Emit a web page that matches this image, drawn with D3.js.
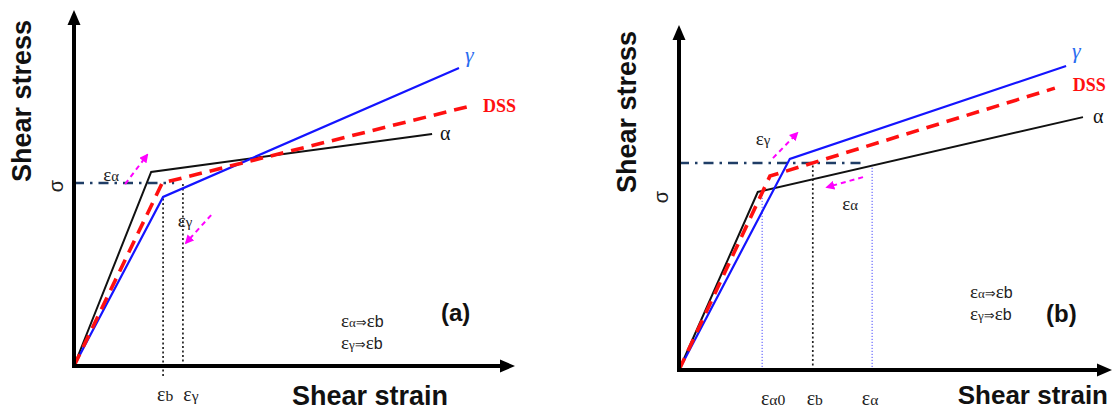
<!DOCTYPE html>
<html>
<head>
<meta charset="utf-8">
<script src="https://cdn.jsdelivr.net/npm/d3@7"></script>
<style>
  body { margin: 0; background: #fff; }
  svg { display: block; }
</style>
</head>
<body>
<div id="chart"></div>
<script>
// strain (x) and stress (y) in arbitrary units 0-100
const seriesNames = ["α", "γ", "DSS"];

// panel (a)
const alphaA = [[0, 0], [17.5, 54.5], [81.2, 65.2]];
const gammaA = [[0, 0], [20.2, 47.5], [87.3, 83.7]];
const dssA   = [[0, 0], [20.0, 51.4], [89.8, 73.0]];
const sigmaA = [0, 22.7, 51.4];                       // x from, x to, stress
const guidesA = [[20.2, -2.8, 47.5], [24.7, 0, 51.4]]; // x, y from, y to
const tickLabelsA = [["ε", "b"], ["ε", "γ"]];
const arrowsA = [[11.6, 51.1, 16.6, 59.3], [31.1, 42.4, 25.4, 34.6]];
const notesA = [[8.4, 53.4, "α"], [25.2, 40.4, "γ"]];

// panel (b)
const alphaB = [[0, 0], [18.2, 51.6], [93.3, 73.3]];
const gammaB = [[0, 0], [25.6, 61.2], [89.4, 88.1]];
const dssB   = [[0, 0], [21.0, 56.2], [86.8, 81.7]];
const sigmaB = [0, 43.0, 60.0];
const guidesB = [[19.2, 0, 51.6], [30.9, 0, 60.0], [44.6, 0, 60.0]];
const tickLabelsB = [["ε", "α0"], ["ε", "b"], ["ε", "α"]];
const arrowsB = [[21.7, 61.4, 27.3, 68.7], [42.5, 55.9, 34.2, 53.0]];
const notesB = [[19.4, 66.7, "γ"], [39.5, 47.8, "α"]];

const rulesText = [["α", "b"], ["γ", "b"]];

const width = 1112, height = 412;

const svg = d3.select("#chart")
  .append("svg")
  .attr("width", width)
  .attr("height", height)
  .attr("viewBox", [0, 0, width, height]);

svg.append("defs").append("marker")
  .attr("id", "mag")
  .attr("viewBox", "0 0 10 10")
  .attr("refX", 8).attr("refY", 5)
  .attr("markerWidth", 9).attr("markerHeight", 9)
  .attr("markerUnits", "userSpaceOnUse")
  .attr("orient", "auto")
  .append("path")
  .attr("d", "M0,0L10,5L0,10z")
  .attr("fill", "#ff00ff");

// epsilon with a smaller trailing part
function epsText(sel, sub, size, font) {
  sel.append("tspan").text("ε").style("font-size", size + "px");
  sel.append("tspan").text(sub).style("font-size", (size * 0.78) + "px")
    .style("font-family", "Liberation Serif, serif");
  sel.style("font-family", font || "Liberation Serif, serif").attr("fill", "#222");
}

function drawPanel(cfg) {
  const x = d3.scaleLinear().domain([0, 100]).range(cfg.xRange);
  const y = d3.scaleLinear().domain([0, 100]).range(cfg.yRange);
  const g = svg.append("g");
  const line = d3.line().x(d => x(d[0])).y(d => y(d[1]));

  // guide verticals
  g.selectAll(".guide")
    .data(cfg.guides)
    .enter().append("line")
    .attr("x1", d => x(d[0])).attr("x2", d => x(d[0]))
    .attr("y1", d => y(d[1])).attr("y2", d => y(d[2]))
    .attr("stroke", (d, i) => cfg.guideColor[i])
    .attr("stroke-width", (d, i) => cfg.guideColor[i] === "#222" ? 1.7 : 1)
    .attr("stroke-dasharray", (d, i) => cfg.guideColor[i] === "#222" ? "2,2.5" : "1.2,1.8");

  // sigma level
  g.append("line")
    .attr("x1", x(cfg.sigma[0])).attr("x2", x(cfg.sigma[1]))
    .attr("y1", y(cfg.sigma[2])).attr("y2", y(cfg.sigma[2]))
    .attr("stroke", "#1f3d66")
    .attr("stroke-width", 2.6)
    .attr("stroke-dasharray", "10,6,2.5,6");

  // curves
  const styles = [
    { color: "#111", w: 2, dash: null },
    { color: "#1414ff", w: 2.2, dash: null },
    { color: "#ff1010", w: 3.6, dash: "13,8" }
  ];
  cfg.series.forEach((s, i) => {
    g.append("path")
      .datum(s)
      .attr("d", line)
      .attr("fill", "none")
      .attr("stroke", styles[i].color)
      .attr("stroke-width", styles[i].w)
      .attr("stroke-dasharray", styles[i].dash)
      .attr("stroke-linejoin", "miter");
  });

  // series end labels
  const endLabel = [
    { dx: 8, dy: 6, color: "#111", size: 20, weight: "normal", style: "normal" },
    { dx: 6, dy: -6, color: "#2b6df0", size: 22, weight: "normal", style: "italic" },
    { dx: 13, dy: 6, color: "#ff1010", size: 18, weight: "bold", style: "normal" }
  ];
  cfg.series.forEach((s, i) => {
    const last = s[s.length - 1];
    g.append("text")
      .attr("x", x(last[0]) + endLabel[i].dx + cfg.labelShift[i][0])
      .attr("y", y(last[1]) + endLabel[i].dy + cfg.labelShift[i][1])
      .attr("fill", endLabel[i].color)
      .style("font-family", "Liberation Serif, serif")
      .style("font-size", endLabel[i].size + "px")
      .style("font-weight", endLabel[i].weight)
      .style("font-style", endLabel[i].style)
      .text(seriesNames[i]);
  });

  // magenta arrows
  g.selectAll(".arr")
    .data(cfg.arrows)
    .enter().append("line")
    .attr("x1", d => x(d[0])).attr("y1", d => y(d[1]))
    .attr("x2", d => x(d[2])).attr("y2", d => y(d[3]))
    .attr("stroke", "#ff00ff")
    .attr("stroke-width", 2)
    .attr("stroke-dasharray", "5,4")
    .attr("marker-end", "url(#mag)");

  cfg.notes.forEach(n => {
    const t = g.append("text")
      .attr("x", x(n[0])).attr("y", y(n[1]) + 5)
      .attr("text-anchor", "middle");
    epsText(t, n[2], 19);
  });

  // axes with arrow heads
  const ox = x(0), oy = y(0), xe = x(100), ye = y(100);
  g.append("line").attr("x1", ox).attr("y1", oy + 2).attr("x2", ox).attr("y2", ye + 12)
    .attr("stroke", "#000").attr("stroke-width", 4);
  g.append("line").attr("x1", ox - 2).attr("y1", oy).attr("x2", xe - 12).attr("y2", oy)
    .attr("stroke", "#000").attr("stroke-width", 4);
  g.append("path")
    .attr("d", `M${ox},${ye}L${ox - 6.5},${ye + 15}L${ox + 6.5},${ye + 15}Z`)
    .attr("fill", "#000");
  g.append("path")
    .attr("d", `M${xe},${oy}L${xe - 15},${oy - 6.5}L${xe - 15},${oy + 6.5}Z`)
    .attr("fill", "#000");

  // x labels at guide positions
  cfg.tickLabels.forEach((lab, i) => {
    const t = g.append("text")
      .attr("x", x(cfg.guides[i][0]) + cfg.tickShift[i])
      .attr("y", cfg.tickY)
      .attr("text-anchor", "middle");
    epsText(t, lab[1], 20);
  });

  // sigma
  g.append("text")
    .attr("transform", `translate(${cfg.sigmaPos[0]},${cfg.sigmaPos[1]}) rotate(-90)`)
    .attr("text-anchor", "middle")
    .style("font-family", "Liberation Sans, Arial, sans-serif")
    .style("font-size", "20px")
    .attr("fill", "#222")
    .text("σ");

  // axis titles
  g.append("text")
    .attr("transform", `translate(${cfg.yTitle[0]},${cfg.yTitle[1]}) rotate(-90)`)
    .attr("text-anchor", "middle")
    .style("font-family", "Liberation Sans, Arial, sans-serif")
    .style("font-size", "27px")
    .style("font-weight", "bold")
    .attr("fill", "#111")
    .text("Shear stress");
  g.append("text")
    .attr("x", cfg.xTitle[0]).attr("y", cfg.xTitle[1])
    .attr("text-anchor", cfg.xTitle[3])
    .style("font-family", "Liberation Sans, Arial, sans-serif")
    .style("font-size", cfg.xTitle[2] + "px")
    .style("font-weight", "bold")
    .attr("fill", "#111")
    .text("Shear strain");

  // rule text
  rulesText.forEach((r, i) => {
    const t = g.append("text")
      .attr("x", cfg.rulesPos[0]).attr("y", cfg.rulesPos[1] + i * 22)
      .style("font-family", "Liberation Serif, serif")
      .attr("fill", "#222");
    t.append("tspan").text("ε").style("font-size", "19px");
    t.append("tspan").text(r[0]).style("font-size", "13px");
    t.append("tspan").text("⇒").style("font-size", "13px").style("font-family", "DejaVu Sans, sans-serif");
    t.append("tspan").text("ε").style("font-size", "19px");
    t.append("tspan").text(r[1]).style("font-size", "16px").style("font-family", "Liberation Sans, Arial, sans-serif");
  });

  g.append("text")
    .attr("x", cfg.letterPos[0]).attr("y", cfg.letterPos[1])
    .style("font-family", "Liberation Sans, Arial, sans-serif")
    .style("font-size", "24px")
    .style("font-weight", "bold")
    .attr("fill", "#111")
    .text(cfg.letter);
}

drawPanel({
  xRange: [74, 515], yRange: [366, 10],
  series: [alphaA, gammaA, dssA],
  sigma: sigmaA, guides: guidesA,
  guideColor: ["#222", "#222"],
  tickLabels: tickLabelsA, tickShift: [2, 8], tickY: 401,
  arrows: arrowsA, notes: notesA,
  labelShift: [[0, 0], [0, 0], [0, 0]],
  sigmaPos: [63, 186], yTitle: [31, 101], xTitle: [292, 405, 27, "start"],
  rulesPos: [341, 327], letterPos: [441, 321], letter: "(a)"
});

drawPanel({
  xRange: [679, 1112], yRange: [370, 25],
  series: [alphaB, gammaB, dssB],
  sigma: sigmaB, guides: guidesB,
  guideColor: ["#4a4aff", "#222", "#4a4aff"],
  tickLabels: tickLabelsB, tickShift: [11, 2, -2], tickY: 405,
  arrows: arrowsB, notes: notesB,
  labelShift: [[2, 0], [0, -2], [5, -3]],
  sigmaPos: [668, 197], yTitle: [636, 112], xTitle: [1108, 404, 26, "end"],
  rulesPos: [970, 298], letterPos: [1046, 322], letter: "(b)"
});
</script>
</body>
</html>
